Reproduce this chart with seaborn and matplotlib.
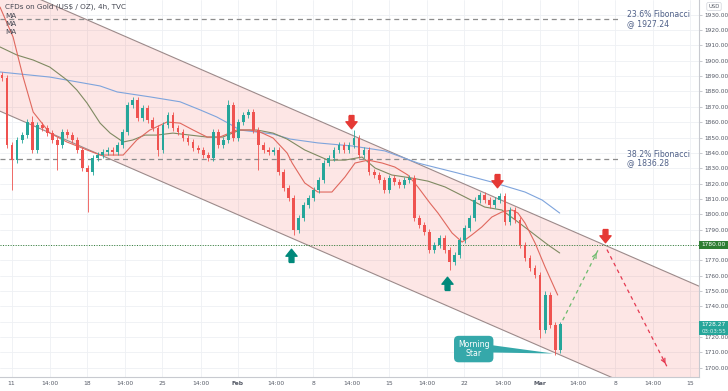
import numpy as np
import pandas as pd
import matplotlib
matplotlib.use('Agg')
import matplotlib.pyplot as plt
from matplotlib.path import Path
from matplotlib.patches import Rectangle
import seaborn as sns

# ---- data (4h gold, bar index on x) ----
first_open = 1891.0
closes = [1888.8, 1845.1, 1835.3, 1848.4, 1851.6, 1860.1, 1841.9, 1858.1, 1856.2, 1852.9,
          1848.4, 1845.1, 1853.6, 1851.6, 1848.4, 1841.9, 1830.1, 1827.5, 1836.6, 1838.6,
          1840.6, 1841.9, 1840.6, 1845.1, 1853.6, 1871.2, 1874.4, 1862.7, 1869.2, 1861.4,
          1856.2, 1841.9, 1858.1, 1864.7, 1856.2, 1853.6, 1849.7, 1847.1, 1843.2, 1841.9,
          1838.6, 1836.6, 1853.6, 1845.1, 1848.4, 1871.2, 1849.7, 1860.1, 1864.7, 1866.6,
          1854.9, 1845.1, 1841.9, 1840.6, 1841.9, 1827.5, 1817.1, 1810.6, 1789.7, 1797.6,
          1806.0, 1810.6, 1815.8, 1822.3, 1833.4, 1836.6, 1841.9, 1845.1, 1841.9, 1845.1,
          1849.7, 1838.6, 1841.9, 1827.5, 1825.6, 1822.3, 1815.8, 1823.6, 1821.0, 1819.1,
          1822.3, 1823.6, 1797.6, 1793.0, 1788.4, 1776.7, 1780.0, 1784.5, 1776.7, 1768.9,
          1773.5, 1783.2, 1791.0, 1797.6, 1809.3, 1812.5, 1809.3, 1806.0, 1809.3, 1811.9,
          1794.9, 1802.8, 1796.3, 1780.0, 1771.5, 1765.0, 1760.4, 1724.6, 1747.4, 1727.8,
          1711.6, 1728.27]
wick_hi = {0: 1892.5, 6: 1864.0, 25: 1872.5, 26: 1876.0, 33: 1866.0, 45: 1874.4,
           49: 1868.5, 70: 1855.0, 95: 1814.5, 99: 1814.0, 108: 1750.0}
wick_lo = {2: 1815.8, 11: 1828.8, 17: 1801.4, 31: 1838.0, 51: 1828.8, 58: 1786.5,
           89: 1763.7, 107: 1719.4, 110: 1708.3}

# moving averages
ma_fast_x = [-0.4, 2.2, 4.2, 6.2, 9.5, 12.9, 16.9, 19.5, 24.1, 26.8, 29.4, 32.8, 35.4, 38.0,
             40.8, 43.3, 46.7, 49.3, 51.3, 53.9, 56.7, 57.7, 60.2, 62.8, 65.6, 68.2, 70.2,
             72.8, 75.6, 78.1, 80.7, 82.7, 85.1, 86.7, 89.5, 91.5, 93.4, 95.4, 97.4, 99.4,
             101.4, 102.6, 104.0, 106.0, 108.0, 110.5]
ma_fast_y = [1935.0, 1915.5, 1889.4, 1866.6, 1852.9, 1847.1, 1841.9, 1838.6, 1838.6, 1848.4,
             1854.9, 1860.1, 1859.4, 1854.9, 1850.3, 1850.3, 1854.9, 1854.9, 1853.6, 1849.7,
             1839.9, 1833.4, 1820.4, 1814.5, 1814.5, 1824.3, 1833.4, 1835.3, 1833.4, 1830.8,
             1825.6, 1817.8, 1807.3, 1800.8, 1787.8, 1781.9, 1786.5, 1791.7, 1798.2, 1801.5,
             1802.8, 1800.8, 1794.3, 1781.3, 1765.6, 1747.4]
ma_mid_x = [-0.4, 3.0, 6.2, 9.5, 12.9, 14.9, 16.9, 19.5, 21.5, 24.1, 26.0, 28.4, 30.8, 34.0,
            37.4, 40.8, 43.9, 47.3, 50.7, 53.9, 56.7, 60.2, 64.8, 68.2, 71.6, 74.2, 77.5,
            81.5, 84.7, 88.1, 92.1, 96.0, 99.4, 102.6, 106.0, 108.6, 110.9]
ma_mid_y = [1909.0, 1903.7, 1900.5, 1895.9, 1887.5, 1880.9, 1872.5, 1859.4, 1852.9, 1847.1,
            1848.4, 1851.6, 1851.6, 1852.9, 1851.6, 1850.3, 1850.3, 1854.9, 1854.9, 1852.9,
            1849.0, 1841.9, 1835.3, 1835.3, 1837.3, 1830.1, 1825.6, 1823.6, 1821.6, 1817.8,
            1811.2, 1804.7, 1802.8, 1795.0, 1786.5, 1780.0, 1774.8]
ma_slow_x = [-0.4, 9.5, 19.5, 22.9, 29.4, 35.4, 39.4, 42.7, 45.3, 47.3, 53.9, 57.3, 62.8,
             69.6, 76.1, 82.7, 85.1, 90.6, 97.4, 104.0, 107.4, 110.9]
ma_slow_y = [1892.7, 1889.4, 1883.6, 1879.7, 1876.5, 1873.3, 1868.0, 1863.4, 1858.8, 1854.9,
             1852.3, 1849.0, 1846.5, 1844.5, 1841.3, 1833.4, 1831.4, 1826.9, 1821.0, 1814.5,
             1809.3, 1800.8]

# channel anchors
channel_bars = [0, 120]
channel_upper = [1950.8, 1779.7]
channel_lower = [1866.6, 1695.5]

fib_levels = [1927.24, 1836.28]
fib_labels = ['23.6% Fibonacci\n@ 1927.24', '38.2% Fibonacci\n@ 1836.28']
key_level = 1780.0

proj_up_x, proj_up_y = [111.5, 118.5], [1731.0, 1776.5]
proj_dn_x, proj_dn_y = [120.3, 132.2], [1777.0, 1701.0]

sell_x, sell_y = [69.4, 98.4, 119.9], [1860.0, 1821.6, 1785.8]
buy_x, buy_y = [57.5, 88.5], [1773.4, 1755.2]

week_labels = ['11', '18', '25', 'Feb', '8', '15', '22', 'Mar', '8', '15']
last_price, countdown = 1728.27, '03:03:55'

# ---- figure ----
sns.set_theme(style='white')
plt.rcParams['font.family'] = ['DejaVu Sans']

fig = plt.figure(figsize=(7.28, 3.91), dpi=100)
ax = fig.add_axes([0, 14 / 391, 699 / 728, 377 / 391])
xmin, xmax = -0.4, 138.6
ymin, ymax = 1694.0, 1939.6
ax.set_xlim(xmin, xmax)
ax.set_ylim(ymin, ymax)

# grid
wk_ticks = [1.9 + 15 * k for k in range(len(week_labels))]
mid_ticks = [t + 7.6 for t in wk_ticks[:-1]]
xt = sorted(wk_ticks + mid_ticks)
xl = [week_labels[wk_ticks.index(t)] if t in wk_ticks else '14:00' for t in xt]
yt = np.arange(1700, 1931, 10)
for t in xt:
    ax.axvline(t, color='#eef0f4', lw=0.6, zorder=0)
for t in yt:
    ax.axhline(t, color='#eef0f4', lw=0.6, zorder=0)

# channel
xs = np.linspace(xmin, xmax, 50)
up = np.polyval(np.polyfit(channel_bars, channel_upper, 1), xs)
lo = np.polyval(np.polyfit(channel_bars, channel_lower, 1), xs)
ax.fill_between(xs, lo, up, color='#f44336', alpha=0.13, lw=0, zorder=1)
ax.plot(xs, up, color='#9c8a8a', lw=0.8, zorder=2)
ax.plot(xs, lo, color='#9c8a8a', lw=0.8, zorder=2)

# fib levels
for lvl, lab in zip(fib_levels, fib_labels):
    ax.hlines(lvl, xmin, 122.9, colors='#8c8c8c', linestyles=(0, (4, 3)), lw=0.9, zorder=2)
    ax.text(124.3, lvl, lab, fontsize=5.6, color='#4f6088', va='center', ha='left',
            linespacing=1.0)
ax.axhline(key_level, color='#2e7d32', ls=(0, (1, 1.6)), lw=0.7, zorder=2)

# moving averages
sns.lineplot(x=ma_slow_x, y=ma_slow_y, ax=ax, color='#7ea4dc', lw=0.8, sort=False,
             estimator=None, zorder=3)
sns.lineplot(x=ma_mid_x, y=ma_mid_y, ax=ax, color='#7f8a62', lw=0.8, sort=False,
             estimator=None, zorder=3)
sns.lineplot(x=ma_fast_x, y=ma_fast_y, ax=ax, color='#e0685e', lw=0.8, sort=False,
             estimator=None, zorder=3)

# candles
df = pd.DataFrame({'close': closes})
df['open'] = [first_open] + closes[:-1]
df['bar'] = np.arange(len(df))
df['high'] = df[['open', 'close']].max(axis=1) + 1.8
df['low'] = df[['open', 'close']].min(axis=1) - 1.8
for k, v in wick_hi.items():
    df.loc[k, 'high'] = max(df.loc[k, 'high'], v)
for k, v in wick_lo.items():
    df.loc[k, 'low'] = min(df.loc[k, 'low'], v)
df['color'] = np.where(df['close'] >= df['open'], '#26a69a', '#ef5350')
body = (df['close'] - df['open']).abs().clip(lower=0.6)
ax.vlines(df['bar'], df['low'], df['high'], colors=df['color'], lw=0.6, zorder=4)
ax.bar(df['bar'], body, bottom=df[['open', 'close']].min(axis=1), width=0.55,
       color=df['color'], lw=0, zorder=5)

# projections
ax.plot(proj_up_x, proj_up_y, color='#6dbb6d', lw=0.9, ls=(0, (3, 3)), zorder=4)
ax.plot(proj_dn_x, proj_dn_y, color='#e53950', lw=0.9, ls=(0, (3, 3)), zorder=4)
for px, py, c in [(proj_up_x, proj_up_y, '#6dbb6d'), (proj_dn_x, proj_dn_y, '#e53950')]:
    ax.annotate('', xy=(px[1], py[1]),
                xytext=(px[1] - (px[1] - px[0]) * 0.08, py[1] - (py[1] - py[0]) * 0.08),
                arrowprops=dict(arrowstyle='->', color=c, lw=0.9, mutation_scale=7))

# block arrows
arrow_dn = Path([(-0.35, 1.0), (0.35, 1.0), (0.35, 0.1), (0.8, 0.1), (0.0, -0.9),
                 (-0.8, 0.1), (-0.35, 0.1), (-0.35, 1.0)])
arrow_up = Path([(x, -y) for x, y in arrow_dn.vertices])
ax.plot(sell_x, sell_y, ls='none', marker=arrow_dn, markersize=10, color='#e53935', zorder=6)
ax.plot(buy_x, buy_y, ls='none', marker=arrow_up, markersize=10, color='#00897b', zorder=6)

# Morning Star callout
teal = '#35a8aa'
ax.fill([96.8, 96.8, 109.6], [1715.0, 1710.0, 1709.3], color=teal, lw=0, zorder=6)
ax.text(93.8, 1712.2, 'Morning\nStar', fontsize=5.6, color='white', ha='center',
        va='center', linespacing=1.1, zorder=7,
        bbox=dict(boxstyle='round,pad=0.5,rounding_size=0.6', fc=teal, ec='none'))

# axes styling (labels hidden where the price boxes sit)
hidden = {1780, 1730}
ax.yaxis.tick_right()
ax.set_yticks(yt)
ax.set_yticklabels(['' if v in hidden else f'{v:.2f}' for v in yt], fontsize=4.2,
                   color='#555a66')
ax.set_xticks(xt)
ax.set_xticklabels(xl, fontsize=4.3, color='#555a66')
for lab in ax.get_xticklabels():
    if lab.get_text() in ('Feb', 'Mar'):
        lab.set_fontweight('bold')
ax.tick_params(axis='y', length=2, width=0.5, color='#b0b3bb', pad=2)
ax.tick_params(axis='x', length=0, pad=3)
for s in ['top', 'left']:
    ax.spines[s].set_visible(False)
for s in ['right', 'bottom']:
    ax.spines[s].set_color('#c8cad0')
    ax.spines[s].set_linewidth(0.8)

# price labels on the axis
ytr = ax.get_yaxis_transform()
ax.add_patch(Rectangle((1.0, key_level - 2.7), 29 / 699, 5.4, transform=ytr,
                       fc='#2e7d32', ec='none', clip_on=False, zorder=8))
ax.text(1.0 + 14.5 / 699, key_level, f'{key_level:.2f}', transform=ytr, fontsize=4.2,
        color='white', ha='center', va='center', zorder=9)
ax.add_patch(Rectangle((1.0, 1721.4), 29 / 699, 8.8, transform=ytr,
                       fc='#26a69a', ec='none', clip_on=False, zorder=8))
ax.text(1.0 + 14.5 / 699, last_price + 0.2, f'{last_price:.2f}', transform=ytr, fontsize=4.2,
        color='white', ha='center', va='center', zorder=9)
ax.text(1.0 + 14.5 / 699, 1723.9, countdown, transform=ytr, fontsize=4.0,
        color='#d8f2ef', ha='center', va='center', zorder=9)
ax.text(1.0 + 15 / 699, 1 - 6.5 / 377, 'USD', transform=ax.transAxes, fontsize=3.8,
        color='#555a66', ha='center', va='center',
        bbox=dict(boxstyle='round,pad=0.3', fc='white', ec='#d0d3da', lw=0.5))

# header / legend text
ax.text(5 / 699, 1 - 7 / 377, 'CFDs on Gold (US$ / OZ), 4h, TVC', transform=ax.transAxes,
        fontsize=5.2, color='#434651', va='center')
for k, yy in enumerate([15.5, 23.5, 31.5]):
    ax.text(5 / 699, 1 - yy / 377, 'MA', transform=ax.transAxes, fontsize=5.2,
            color='#434651', va='center')

fig.savefig('out.png', dpi=100)
